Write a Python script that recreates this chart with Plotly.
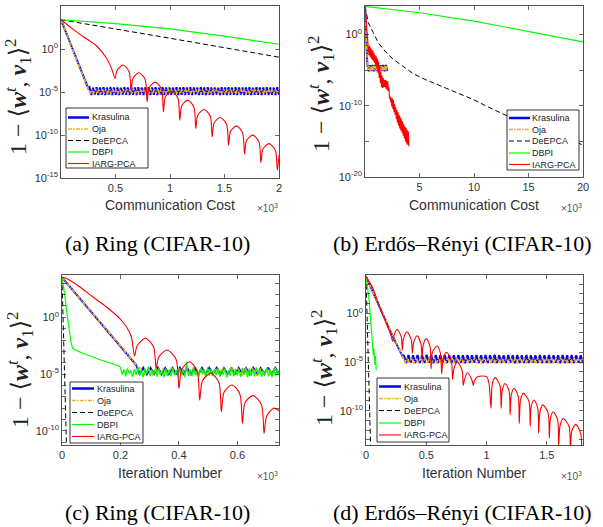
import numpy as np
import plotly.graph_objects as go

# ---------------- data: log10(1 - <w^t, v1>^2) ----------------
# (a) Ring, communication cost
ring_cc_kras_x = [0, 250]
ring_cc_kras_v = [3.4, -4.58]
ring_cc_kras_band_span = [262, 2000]
ring_cc_kras_band = [-4.46,-5.34,-4.50,-5.30,-4.44,-5.36,-4.48,-5.31,-4.45,-5.35,
                     -4.49,-5.29,-4.43,-5.34,-4.47,-5.32,-4.46,-5.35,-4.50,-5.30,
                     -4.44,-5.33,-4.48,-5.36,-4.45,-5.31,-4.47,-5.34,-4.44,-5.30,
                     -4.49,-5.35,-4.46,-5.32,-4.43,-5.36,-4.48,-5.31,-4.45,-5.34,
                     -4.50,-5.30,-4.44,-5.35,-4.47,-5.32,-4.46,-5.33,-4.49,-5.30,
                     -4.44,-5.36,-4.47,-5.31,-4.45,-5.34,-4.48,-5.32,-4.43,-5.35,
                     -4.46,-5.30,-4.49,-5.34,-4.45,-5.33,-4.47,-5.35,-4.44,-5.31,
                     -4.48,-5.36,-4.46,-5.30,-4.50,-5.34,-4.43,-5.32,-4.47,-5.35,
                     -4.45,-5.31,-4.49,-5.33,-4.44,-5.36,-4.46,-5.30,-4.48,-5.34,
                     -4.47,-5.32,-4.43,-5.35,-4.50,-5.31,-4.45,-5.33,-4.46,-5.36,
                     -4.48,-5.30,-4.44,-5.34,-4.47,-5.32,-4.49,-5.35,-4.45,-5.31]
ring_cc_oja_x = [0, 256]
ring_cc_oja_v = [3.4, -4.7]
ring_cc_oja_band_span = [268, 2000]
ring_cc_oja_band = [-5.22,-4.64,-5.26,-4.60,-5.21,-4.66,-5.25,-4.62,-5.23,-4.65,
                    -5.20,-4.61,-5.26,-4.63,-5.22,-4.66,-5.24,-4.60,-5.21,-4.64,
                    -5.25,-4.62,-5.23,-4.65,-5.20,-4.61,-5.26,-4.63,-5.22,-4.66,
                    -5.24,-4.60,-5.21,-4.64,-5.25,-4.62,-5.23,-4.65,-5.20,-4.61,
                    -5.26,-4.63,-5.22,-4.66,-5.24,-4.60,-5.21,-4.64,-5.25,-4.62,
                    -5.23,-4.65,-5.20,-4.61,-5.26,-4.63,-5.22,-4.66,-5.24,-4.60,
                    -5.21,-4.64,-5.25,-4.62,-5.23,-4.65,-5.20,-4.61,-5.26,-4.63,
                    -5.22,-4.66,-5.24,-4.60,-5.21,-4.64,-5.25,-4.62,-5.23,-4.65,
                    -5.20,-4.61,-5.26,-4.63,-5.22,-4.66,-5.24,-4.60,-5.21,-4.64,
                    -5.25,-4.62,-5.23,-4.65,-5.20,-4.61,-5.26,-4.63,-5.22,-4.66,
                    -5.24,-4.60,-5.21,-4.64,-5.25,-4.62,-5.23,-4.65,-5.20,-4.61]
ring_cc_deepca_x = [0, 500, 1000, 1500, 2000]
ring_cc_deepca_v = [3.4, 2.35, 1.25, 0.15, -0.95]
ring_cc_dbpi_x = [0, 500, 1000, 1500, 2000]
ring_cc_dbpi_v = [3.4, 2.95, 2.35, 1.5, 0.55]
ring_cc_iarg_x = [0, 100, 205, 327, 418, 464, 496,
                  514, 570, 625, 643,
                  661, 716, 772, 790,
                  808, 865, 922, 940,
                  958, 1015, 1072, 1090,
                  1108, 1163, 1219, 1237,
                  1255, 1312, 1369, 1387,
                  1405, 1461, 1519, 1537,
                  1555, 1610, 1666, 1684,
                  1702, 1759, 1816, 1834,
                  1852, 1909, 1967, 1985,
                  2000]
ring_cc_iarg_v = [3.4, 2.4, 1.43, 0.35, -1.08, -2.25, -3.42,
                  -2.5, -1.86, -2.65, -4.78,
                  -3.4, -2.76, -3.55, -6.14,
                  -4.5, -3.85, -4.65, -7.3,
                  -5.55, -4.9, -5.7, -8.28,
                  -6.6, -5.94, -6.75, -9.24,
                  -7.7, -7.03, -7.8, -10.22,
                  -8.6, -7.96, -8.75, -11.19,
                  -9.6, -8.94, -9.75, -12.24,
                  -10.65, -10.02, -10.8, -13.2,
                  -11.65, -11.0, -11.8, -14.1,
                  -12.35]

# (b) Erdos-Renyi, communication cost
er_cc_kras_x = [0, 120, 220]
er_cc_kras_v = [3.95, 0.0, -4.3]
er_cc_kras_band_span = [225, 2040]
er_cc_kras_band = [-4.28,-5.15,-4.30,-5.13,-4.27,-5.16,-4.29,-5.14,-4.28,-5.15,-4.30,-5.12,-4.27,-5.16,-4.29,-5.14]
er_cc_oja_x = [0, 230]
er_cc_oja_v = [3.95, -4.45]
er_cc_oja_band_span = [240, 2030]
er_cc_oja_band = [-5.05,-4.42,-5.03,-4.45,-5.06,-4.43,-5.04,-4.44,-5.05,-4.42,
                  -5.03,-4.45,-5.06,-4.43,-5.04,-4.44,-5.05,-4.42,-5.03,-4.45,
                  -5.06,-4.43,-5.04,-4.44,-5.05,-4.42,-5.03,-4.45,-5.06,-4.43]
er_cc_deepca_x = [0, 306, 765, 1223, 1835, 2600, 3517, 4434, 5500, 7800, 9940, 11160, 13000, 16000, 20000]
er_cc_deepca_v = [3.95, 1.64, 0.24, -1.17, -2.34, -3.5, -4.5, -5.5, -6.3, -7.72, -9.13, -10.07, -11.4, -13.2, -15.5]
er_cc_dbpi_x = [0, 5000, 10000, 15000, 20000]
er_cc_dbpi_v = [3.95, 3.05, 1.87, 0.46, -1.03]
er_cc_iarg_x = [0, 120, 214, 306, 360, 410, 460, 515, 565, 620,
                670, 725, 775, 830, 880, 935, 985, 1040, 1090, 1145,
                1195, 1250, 1300, 1355, 1405, 1460, 1510, 1565, 1615, 1670,
                1720, 1775, 1825, 1880, 1930, 1985, 2035, 2090, 2140, 2195,
                2245, 2300, 2350, 2405, 2455, 2510, 2560, 2615, 2665, 2720,
                2770, 2825, 2875, 2930, 2980, 3035, 3085, 3140, 3190, 3245,
                3295, 3350, 3400, 3455, 3505, 3560, 3610, 3665, 3715, 3770,
                3820, 3875, 3925, 3980, 4030]
er_cc_iarg_v = [3.95, 2.0, 0.24, -1.17, -2.9, -1.6, -3.1, -1.8, -3.35, -2.1,
                -3.55, -2.3, -3.75, -2.6, -4.0, -2.9, -4.4, -3.1, -4.8, -3.4,
                -5.4, -3.8, -6.1, -4.4, -6.8, -5.3, -7.4, -5.8, -7.5, -6.1,
                -7.4, -6.35, -7.35, -6.4, -7.6, -6.5, -7.8, -6.55, -7.95, -7.4,
                -9.0, -8.7, -9.5, -8.9, -10.1, -9.0, -10.5, -9.2, -10.9, -9.8,
                -11.3, -10.2, -11.9, -10.6, -12.4, -10.9, -12.8, -11.3, -13.2, -11.6,
                -13.5, -11.9, -13.8, -12.2, -14.2, -12.6, -14.6, -12.9, -15.0, -13.1,
                -15.3, -13.4, -15.5, -13.6, -15.7]

# (c) Ring, iteration number
ring_it_kras_x = [0, 254]
ring_it_kras_v = [3.52, -4.2]
ring_it_kras_band_span = [265, 742]
ring_it_kras_band = [-5.0,-4.45,-5.02,-4.48,-4.98,-4.44,-5.01,-4.47,-5.0,-4.46,-5.03,-4.45,-4.99,-4.48,-5.0,-4.44,
                     -5.02,-4.47,-5.0,-4.45,-4.98,-4.46,-5.01,-4.48,-5.0,-4.44,-5.02,-4.46,-4.99,-4.47,-5.0,-4.45,
                     -5.01,-4.48,-5.0,-4.44,-5.02,-4.46,-5.0]
ring_it_oja_x = [0, 258]
ring_it_oja_v = [3.52, -4.3]
ring_it_oja_band_span = [270, 742]
ring_it_oja_band = [-4.52,-5.06,-4.5,-5.08,-4.53,-5.05,-4.51,-5.07,-4.5,-5.06,-4.54,-5.05,-4.51,-5.08,-4.52,-5.06,
                    -4.5,-5.07,-4.53,-5.05,-4.51,-5.06,-4.52,-5.08,-4.5,-5.05,-4.53,-5.07,-4.51,-5.06,-4.52,-5.05,
                    -4.5,-5.08,-4.53,-5.06,-4.51,-5.07]
ring_it_deepca_x = [0, 4, 8.6, 12, 16]
ring_it_deepca_v = [3.52, 0.0, -3.8, -7.5, -12.0]
ring_it_dbpi_x = [0, 8.6, 20, 31.5, 37, 43, 80, 105, 135, 163, 197]
ring_it_dbpi_v = [3.52, 2.1, -0.24, -2.29, -2.75, -2.85, -3.25, -3.52, -3.78, -4.0, -4.3]
ring_it_dbpi_noise_span = [200, 742]
ring_it_dbpi_noise = [-4.45,-5.05,-4.6,-5.2,-4.5,-4.95,-4.7,-5.25,-4.55,-5.1,
                      -4.4,-5.15,-4.65,-5.3,-4.5,-5.0,-4.35,-5.2,-4.6,-5.1,
                      -4.55,-5.25,-4.45,-5.05,-4.7,-5.3,-4.5,-5.15,-4.6,-5.2,
                      -4.4,-5.1,-4.65,-5.25,-4.5,-5.05,-4.55,-5.3,-3.95,-5.15,
                      -4.6,-5.2,-4.45,-5.1,-4.7,-5.25,-4.5,-5.0,-4.6,-5.3,
                      -4.4,-5.15,-4.55,-5.2,-4.65,-5.1,-4.45,-5.25,-4.6,-5.05,
                      -4.5,-5.3,-4.7,-5.15,-4.4,-5.2,-4.55,-5.1,-4.6,-5.25,
                      -4.45,-5.05,-4.65,-5.3,-4.5,-5.15,-4.6,-5.2,-4.4,-5.1,
                      -4.55,-5.25,-4.7,-5.05,-4.45,-5.2,-4.6,-5.3,-4.5,-5.15,
                      -4.55,-5.1]
ring_it_iarg_x = [0, 14, 60, 105, 151, 197, 220, 237, 248,
                  257, 285, 313, 322,
                  331, 359, 390, 400,
                  409, 436, 462, 471,
                  480, 508, 536, 545,
                  554, 581, 608, 617,
                  626, 654, 682, 691,
                  700, 725, 745]
ring_it_iarg_v = [3.52, 3.44, 2.7, 1.81, 0.93, -0.09, -0.83, -1.71, -3.41,
                  -2.5, -1.85, -2.6, -4.49,
                  -3.5, -2.88, -3.7, -6.26,
                  -4.6, -3.91, -4.7, -7.29,
                  -5.6, -4.93, -5.7, -8.32,
                  -6.6, -5.96, -6.75, -9.34,
                  -7.5, -6.9, -7.7, -10.22,
                  -8.7, -8.0, -8.3]

# (d) Erdos-Renyi, iteration number
er_it_kras_x = [0, 223, 305]
er_it_kras_v = [3.76, -2.4, -4.45]
er_it_kras_band_span = [315, 1800]
er_it_kras_band = [-4.30,-5.10,-4.28,-5.08,-4.32,-5.11,-4.29,-5.09,-4.31,-5.10,
                   -4.27,-5.08,-4.30,-5.12,-4.29,-5.09,-4.32,-5.10,-4.28,-5.11,
                   -4.30,-5.08,-4.31,-5.10,-4.28,-5.09,-4.30,-5.12,-4.29,-5.10,
                   -4.32,-5.08,-4.28,-5.11,-4.30,-5.09,-4.29,-5.10,-4.31,-5.08,
                   -4.27,-5.11,-4.30,-5.09,-4.32,-5.10,-4.28,-5.08,-4.30,-5.12,
                   -4.29,-5.10,-4.31,-5.09,-4.28,-5.11,-4.30,-5.08,-4.32,-5.10,
                   -4.29,-5.09,-4.30,-5.11,-4.28,-5.10,-4.31,-5.08,-4.30,-5.12,
                   -4.29,-5.09,-4.32,-5.10,-4.28,-5.11,-4.30,-5.08,-4.31,-5.10]
er_it_oja_x = [0, 310]
er_it_oja_v = [3.76, -4.6]
er_it_oja_band_span = [322, 1800]
er_it_oja_band = [-5.14,-4.56,-5.16,-4.54,-5.13,-4.57,-5.15,-4.55,-5.14,-4.53,
                  -5.16,-4.56,-5.13,-4.55,-5.15,-4.57,-5.14,-4.54,-5.16,-4.56,
                  -5.13,-4.55,-5.15,-4.53,-5.14,-4.57,-5.16,-4.55,-5.13,-4.56,
                  -5.15,-4.54,-5.14,-4.56,-5.16,-4.55,-5.13,-4.57,-5.15,-4.54,
                  -5.14,-4.56,-5.16,-4.53,-5.13,-4.55,-5.15,-4.57,-5.14,-4.56,
                  -5.16,-4.54,-5.13,-4.55,-5.15,-4.56,-5.14,-4.57,-5.16,-4.53,
                  -5.13,-4.55,-5.15,-4.56,-5.14,-4.54,-5.16,-4.57,-5.13,-4.55,
                  -5.15,-4.56,-5.14,-4.53,-5.16,-4.55,-5.13,-4.57,-5.15,-4.56]
er_it_deepca_x = [0, 20, 39]
er_it_deepca_v = [3.76, -5.2, -14.0]
er_it_dbpi_x = [0, 23, 39, 50, 57, 61, 65, 68, 72, 75, 79, 82, 85]
er_it_dbpi_v = [3.76, 1.7, -0.69, -2.5, -3.3, -4.3, -3.6, -4.8, -4.0, -5.3, -4.4, -5.5, -5.85]
er_it_iarg_x = [0, 57, 112, 168, 205, 223,
                232, 257, 292, 301,
                311, 340, 375, 385,
                395, 424, 455, 465,
                474, 500, 531, 540,
                551, 590, 617, 628,
                639, 668, 707, 718,
                729, 757, 796, 807,
                817, 842, 880, 890,
                900, 930, 1000, 1020, 1037,
                1047, 1071, 1111, 1121,
                1130, 1154, 1187, 1196,
                1205, 1228, 1262, 1271,
                1282, 1305, 1351, 1362,
                1370, 1393, 1424, 1432,
                1443, 1466, 1510, 1521,
                1530, 1552, 1589, 1598,
                1610, 1635, 1684, 1696,
                1707, 1740, 1780, 1790]
er_it_iarg_v = [3.76, 2.57, 0.68, -1.03, -2.2, -2.9,
                -2.3, -1.64, -2.4, -3.77,
                -2.6, -1.89, -2.7, -4.1,
                -3.0, -2.3, -3.1, -4.6,
                -3.3, -2.6, -3.4, -5.7,
                -4.0, -3.36, -4.1, -6.2,
                -4.7, -4.0, -4.8, -6.8,
                -5.7, -5.0, -5.8, -7.4,
                -6.8, -6.1, -6.9, -7.4,
                -6.9, -6.5, -6.5, -7.2, -9.75,
                -7.3, -6.6, -7.4, -9.75,
                -7.9, -7.2, -8.0, -10.4,
                -8.4, -7.7, -8.5, -11.3,
                -8.9, -8.2, -9.0, -11.6,
                -9.6, -8.9, -9.7, -12.3,
                -10.1, -9.4, -10.2, -12.8,
                -10.8, -10.1, -10.9, -13.6,
                -11.5, -10.8, -11.6, -14.2,
                -12.1, -11.4, -12.3, -14.2]

series_names = ["Krasulina", "Oja", "DeEPCA", "DBPI", "IARG-PCA"]
captions = ["(a) Ring (CIFAR-10)", "(b) Erdős–Rényi (CIFAR-10)",
            "(c) Ring (CIFAR-10)", "(d) Erdős–Rényi (CIFAR-10)"]
xtitles = ["Communication Cost", "Communication Cost", "Iteration Number", "Iteration Number"]

# ---------------- styling ----------------
W, H = 603, 527
SANS = "Liberation Sans, Arial, Helvetica, sans-serif"
SERIF = "Liberation Serif, Times New Roman, DejaVu Serif, serif"
AXC = "#262626"
TXT = "#333333"
STYLE = {
    "Krasulina": dict(color="#0000FF", width=2, dash="solid"),
    "Oja": dict(color="#EDB120", width=1.6, dash="4px,1.2px,1.5px,1.2px"),
    "DeEPCA": dict(color="#000000", width=1, dash="5px,3px"),
    "DBPI": dict(color="#00FF00", width=1.2, dash="solid"),
    "IARG-PCA": dict(color="#FF0000", width=1.1, dash="solid"),
}
LEGEND_WIDTH = {"Krasulina": 2.5, "Oja": 1.3, "DeEPCA": 1, "DBPI": 1.2, "IARG-PCA": 1.1}

def px_x(p):
    return p / W

def px_y(p):
    return 1 - p / H

fig = go.Figure(layout=dict(template="none"))

def band(x, v, span, vals):
    bx = list(np.linspace(span[0], span[1], len(vals)))
    return list(x) + bx, list(v) + list(vals)

panels = [
    dict(ax=("x", "y"),
         data=[band(ring_cc_kras_x, ring_cc_kras_v, ring_cc_kras_band_span, ring_cc_kras_band),
               band(ring_cc_oja_x, ring_cc_oja_v, ring_cc_oja_band_span, ring_cc_oja_band),
               (ring_cc_deepca_x, ring_cc_deepca_v),
               (ring_cc_dbpi_x, ring_cc_dbpi_v),
               (ring_cc_iarg_x, ring_cc_iarg_v)],
         spline=True),
    dict(ax=("x2", "y2"),
         data=[band(er_cc_kras_x, er_cc_kras_v, er_cc_kras_band_span, er_cc_kras_band),
               band(er_cc_oja_x, er_cc_oja_v, er_cc_oja_band_span, er_cc_oja_band),
               (er_cc_deepca_x, er_cc_deepca_v),
               (er_cc_dbpi_x, er_cc_dbpi_v),
               (er_cc_iarg_x, er_cc_iarg_v)],
         spline=False),
    dict(ax=("x3", "y3"),
         data=[band(ring_it_kras_x, ring_it_kras_v, ring_it_kras_band_span, ring_it_kras_band),
               band(ring_it_oja_x, ring_it_oja_v, ring_it_oja_band_span, ring_it_oja_band),
               (ring_it_deepca_x, ring_it_deepca_v),
               band(ring_it_dbpi_x, ring_it_dbpi_v, ring_it_dbpi_noise_span, ring_it_dbpi_noise),
               (ring_it_iarg_x, ring_it_iarg_v)],
         spline=True),
    dict(ax=("x4", "y4"),
         data=[band(er_it_kras_x, er_it_kras_v, er_it_kras_band_span, er_it_kras_band),
               band(er_it_oja_x, er_it_oja_v, er_it_oja_band_span, er_it_oja_band),
               (er_it_deepca_x, er_it_deepca_v),
               (er_it_dbpi_x, er_it_dbpi_v),
               (er_it_iarg_x, er_it_iarg_v)],
         spline=True),
]

for p in panels:
    for name, (xs, vs) in zip(series_names, p["data"]):
        st = STYLE[name]
        shape = "spline" if (name == "IARG-PCA" and p["spline"]) else "linear"
        fig.add_trace(go.Scatter(
            x=xs, y=[10.0 ** t for t in vs], mode="lines", name=name,
            line=dict(color=st["color"], width=st["width"], dash=st["dash"], shape=shape, smoothing=0.8),
            xaxis=p["ax"][0], yaxis=p["ax"][1], showlegend=False, hoverinfo="skip"))

# ---------------- axes ----------------
boxes = [(61, 6, 279, 178), (365, 6, 583, 177), (62, 275, 279, 445), (366, 275, 583, 445)]
xranges = [[0, 2000], [0, 20000], [0, 742], [0, 1800]]
yranges = [[-15, 5], [-20, 4.0], [-11.25, 3.73], [-13.52, 3.93]]
xticks = [([500, 1000, 1500, 2000], ["0.5", "1", "1.5", "2"]),
          ([5000, 10000, 15000, 20000], ["5", "10", "15", "20"]),
          ([0, 200, 400, 600], ["0", "0.2", "0.4", "0.6"]),
          ([0, 500, 1000, 1500], ["0", "0.5", "1", "1.5"])]
ymajor_exps = [[5, 0, -5, -10, -15], [0, -10, -20], [0, -5, -10], [0, -5, -10]]
yminor_exps = [[], [-5, -15],
               [k for k in range(3, -12, -1) if k % 5 != 0],
               [k for k in range(3, -14, -1) if k % 5 != 0]]

def sup(k):
    return "10<sup>%d</sup>" % k

layout = dict(width=W, height=H, margin=dict(l=0, r=0, t=0, b=0, pad=0), autosize=False,
              paper_bgcolor="white", plot_bgcolor="white", showlegend=False)
common = dict(showline=True, linecolor=AXC, linewidth=0.8, mirror="allticks", ticks="inside",
              ticklen=4, tickwidth=0.7, tickcolor=AXC, showgrid=False, zeroline=False,
              automargin=False, tickfont=dict(family=SANS, size=11, color=TXT))
for i in range(4):
    x0, y0, x1, y1 = boxes[i]
    sx = "" if i == 0 else str(i + 1)
    tv, tt = xticks[i]
    layout["xaxis" + sx] = dict(common, domain=[px_x(x0), px_x(x1)], range=xranges[i],
                                tickmode="array", tickvals=tv, ticktext=tt, anchor="y" + sx)
    yax = dict(common, domain=[px_y(y1), px_y(y0)], type="log", range=yranges[i],
               tickmode="array", tickvals=[10.0 ** k for k in ymajor_exps[i]],
               ticktext=[sup(k) for k in ymajor_exps[i]], anchor="x" + sx)
    if yminor_exps[i]:
        yax["minor"] = dict(tickmode="array", tickvals=[10.0 ** k for k in yminor_exps[i]],
                            ticks="inside", ticklen=4, tickwidth=0.7, tickcolor=AXC, showgrid=False)
    layout["yaxis" + sx] = yax
fig.update_layout(**layout)

# ---------------- annotations: titles, captions, x10^3 ----------------
ann = []
ylab = ("1 − ⟨<b><i>w</i></b><sup><i>t</i></sup>, <b><i>v</i></b><sub>1</sub>⟩<sup>2</sup>")
xt_pos = [(170, 205), (474, 205), (170, 473), (474, 473)]
yt_pos = [(18, 97), (321, 94), (20, 370), (324, 368)]
cap_pos = [(157, 243), (462, 243), (157, 512), (462, 512)]
mult_pos = [(280, 208), (584, 208), (280, 476), (584, 476)]
for i in range(4):
    ann.append(dict(x=px_x(xt_pos[i][0]), y=px_y(xt_pos[i][1]), xref="paper", yref="paper",
                    text=xtitles[i], showarrow=False, xanchor="center", yanchor="middle",
                    font=dict(family=SANS, size=14, color=TXT)))
    ann.append(dict(x=px_x(yt_pos[i][0]), y=px_y(yt_pos[i][1]), xref="paper", yref="paper",
                    text=ylab, showarrow=False, textangle=-90, xanchor="center", yanchor="middle",
                    font=dict(family=SERIF, size=24, color="#222222")))
    ann.append(dict(x=px_x(cap_pos[i][0]), y=px_y(cap_pos[i][1]), xref="paper", yref="paper",
                    text=captions[i], showarrow=False, xanchor="center", yanchor="middle",
                    font=dict(family=SERIF, size=22, color="black")))
    ann.append(dict(x=px_x(mult_pos[i][0]), y=px_y(mult_pos[i][1]), xref="paper", yref="paper",
                    text="×10<sup>3</sup>", showarrow=False, xanchor="right", yanchor="middle",
                    font=dict(family=SANS, size=10, color="#555555")))

# ---------------- legends (drawn as boxes + samples + text) ----------------
legends = [
    dict(box=(66, 108, 148, 168), rows=[117.5, 129, 140.5, 152, 163.5], sx=(68, 89), tx=90),
    dict(box=(507, 110, 579, 170), rows=[118, 129.5, 141, 153, 164.5], sx=(509, 530), tx=530),
    dict(box=(70, 382, 143, 443), rows=[388.5, 400.5, 412.5, 424.5, 436.5], sx=(72, 94), tx=95),
    dict(box=(377, 378, 449, 442), rows=[386.5, 398.5, 410.5, 423, 435], sx=(379, 401), tx=402),
]
shapes = []
for lg in legends:
    bx0, by0, bx1, by1 = lg["box"]
    shapes.append(dict(type="rect", xref="paper", yref="paper",
                       x0=px_x(bx0), x1=px_x(bx1), y0=px_y(by1), y1=px_y(by0),
                       line=dict(color="black", width=0.8), fillcolor="white", layer="above"))
    for name, ry in zip(series_names, lg["rows"]):
        st = STYLE[name]
        shapes.append(dict(type="line", xref="paper", yref="paper",
                           x0=px_x(lg["sx"][0]), x1=px_x(lg["sx"][1]), y0=px_y(ry), y1=px_y(ry),
                           line=dict(color=st["color"], width=LEGEND_WIDTH[name], dash=st["dash"]),
                           layer="above"))
        ann.append(dict(x=px_x(lg["tx"]), y=px_y(ry), xref="paper", yref="paper", text=name,
                        showarrow=False, xanchor="left", yanchor="middle",
                        font=dict(family=SANS, size=9, color="#222222")))

fig.update_layout(annotations=ann, shapes=shapes)
fig.write_html("out.html", config={"displayModeBar": False, "staticPlot": True},
               post_script="document.body.style.margin='0px';document.body.style.overflow='hidden';")
